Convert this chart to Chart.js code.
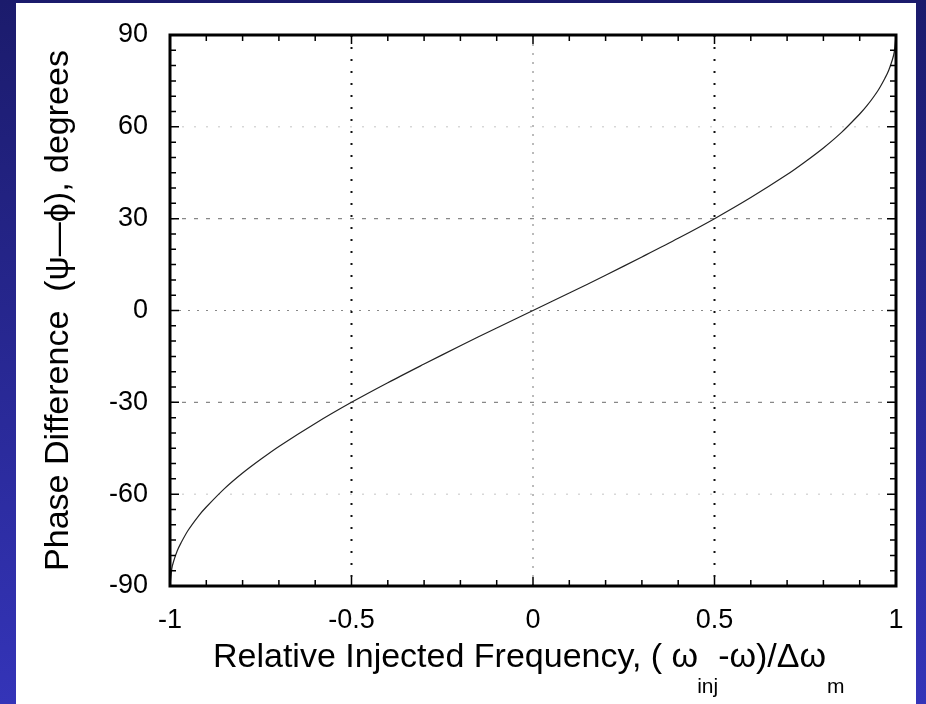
<!DOCTYPE html>
<html>
<head>
<meta charset="utf-8">
<script src="https://cdn.jsdelivr.net/npm/chart.js@4.4.1/dist/chart.umd.min.js"></script>
<style>
html, body { margin: 0; padding: 0; }
body { width: 926px; height: 704px; background: linear-gradient(#1b1b6c, #3434b8); position: relative; overflow: hidden; }
#panel { position: absolute; left: 16px; top: 3px; width: 900px; height: 701px; background: #fff; }
#wrap { position: absolute; left: 0; top: 0; width: 926px; height: 704px; }
</style>
</head>
<body>
<div id="panel"></div>
<div id="wrap"><canvas id="phase-chart"></canvas></div>
<script>
// relative injected frequency and phase difference
var freq  = [-1, -0.995, -0.99, -0.98, -0.97, -0.95, -0.92, -0.9, -0.85, -0.8, -0.75, -0.7, -0.6, -0.5, -0.4, -0.3, -0.2, -0.1, 0,
             0.1, 0.2, 0.3, 0.4, 0.5, 0.6, 0.7, 0.75, 0.8, 0.85, 0.9, 0.92, 0.95, 0.97, 0.98, 0.99, 0.995, 1];
var phase = [-90, -84.3, -81.9, -78.5, -76, -71.8, -66.9, -64.2, -58.2, -53.1, -48.6, -44.4, -36.9, -30, -23.6, -17.5, -11.5, -5.7, 0,
             5.7, 11.5, 17.5, 23.6, 30, 36.9, 44.4, 48.6, 53.1, 58.2, 64.2, 66.9, 71.8, 76, 78.5, 81.9, 84.3, 90];
var xTicks = [-1, -0.5, 0, 0.5, 1];
var yTicks = [-90, -60, -30, 0, 30, 60, 90];

var points = freq.map(function (f, i) { return { x: f, y: phase[i] }; });

function dotted(ctx, x1, y1, x2, y2, color, width, dash) {
    ctx.save();
    ctx.strokeStyle = color;
    ctx.lineWidth = width;
    ctx.setLineDash(dash);
    ctx.beginPath();
    ctx.moveTo(x1, y1);
    ctx.lineTo(x2, y2);
    ctx.stroke();
    ctx.restore();
}

var framePlugin = {
    id: 'frame',
    beforeDatasetsDraw: function (chart) {
        var ctx = chart.ctx, a = chart.chartArea;
        var xs = chart.scales.x, ys = chart.scales.y;
        [-0.5, 0.5].forEach(function (v) {
            var px = xs.getPixelForValue(v);
            dotted(ctx, px, a.top, px, a.bottom, '#111', 2, [2, 10]);
        });
        var p0 = xs.getPixelForValue(0);
        dotted(ctx, p0, a.top, p0, a.bottom, '#777', 1, [2, 7]);
        [30, -30].forEach(function (v) {
            var py = ys.getPixelForValue(v);
            dotted(ctx, a.left, py, a.right, py, '#888', 1.2, [4, 8]);
        });
        var z = ys.getPixelForValue(0);
        dotted(ctx, a.left, z, a.right, z, '#888', 1, [2, 7]);
        [60, -60].forEach(function (v) {
            var py = ys.getPixelForValue(v);
            dotted(ctx, a.left, py, a.right, py, '#c4c4c4', 1, [2, 10]);
        });
    },
    afterDatasetsDraw: function (chart) {
        var ctx = chart.ctx, a = chart.chartArea;
        var xs = chart.scales.x, ys = chart.scales.y;
        ctx.save();
        ctx.strokeStyle = '#000';
        ctx.lineWidth = 1.5;
        ctx.beginPath();
        for (var i = -9; i <= 9; i++) {
            var px = xs.getPixelForValue(i / 10);
            var len = (i % 5 === 0) ? 9 : 6;
            ctx.moveTo(px, a.bottom); ctx.lineTo(px, a.bottom - len);
            ctx.moveTo(px, a.top); ctx.lineTo(px, a.top + len);
        }
        for (var d = -85; d <= 85; d += 5) {
            var py = ys.getPixelForValue(d);
            var l2 = (d % 30 === 0) ? 9 : 6;
            ctx.moveTo(a.left, py); ctx.lineTo(a.left + l2, py);
            ctx.moveTo(a.right, py); ctx.lineTo(a.right - l2, py);
        }
        ctx.stroke();
        ctx.lineWidth = 3;
        ctx.strokeRect(a.left, a.top, a.right - a.left, a.bottom - a.top);
        ctx.restore();
    },
    afterDraw: function (chart) {
        // x axis title with subscripts
        var ctx = chart.ctx;
        var x = 213, base = 667;
        var big = '34px "Liberation Sans", Arial, sans-serif';
        var small = '21px "Liberation Sans", Arial, sans-serif';
        ctx.save();
        ctx.fillStyle = '#000';
        ctx.textBaseline = 'alphabetic';
        ctx.textAlign = 'left';
        ctx.font = big;
        var s1 = 'Relative Injected Frequency, ( \u03c9';
        ctx.fillText(s1, x, base);
        x += ctx.measureText(s1).width - 1;
        ctx.font = small;
        ctx.fillText('inj', x, base + 26);
        x += ctx.measureText('inj').width;
        ctx.font = big;
        var s2 = '-\u03c9)/\u0394\u03c9';
        ctx.fillText(s2, x, base);
        x += ctx.measureText(s2).width + 1;
        ctx.font = small;
        ctx.fillText('m', x, base + 26);
        ctx.restore();
    }
};

var ctx = document.getElementById('phase-chart').getContext('2d');
var phaseChart = new Chart(ctx, {
    type: 'scatter',
    data: {
        datasets: [{
            data: points,
            showLine: true,
            borderColor: '#222',
            borderWidth: 1.2,
            pointRadius: 0,
            tension: 0.3
        }]
    },
    options: {
        responsive: true,
        maintainAspectRatio: false,
        animation: false,
        layout: { padding: { left: 0, top: 35, right: 30, bottom: 0 } },
        plugins: { legend: { display: false }, tooltip: { enabled: false } },
        scales: {
            x: {
                type: 'linear',
                min: -1,
                max: 1,
                afterBuildTicks: function (scale) { scale.ticks = xTicks.map(function (v) { return { value: v }; }); },
                afterFit: function (scale) { scale.height = 118; },
                grid: { display: false },
                border: { display: false },
                ticks: {
                    color: '#000',
                    padding: 10,
                    maxRotation: 0,
                    font: { family: '"Liberation Sans", Arial, sans-serif', size: 27 },
                    callback: function (v) { return String(v); }
                }
            },
            y: {
                type: 'linear',
                min: -90,
                max: 90,
                afterBuildTicks: function (scale) { scale.ticks = yTicks.map(function (v) { return { value: v }; }); },
                afterFit: function (scale) { scale.width = 170; },
                grid: { display: false },
                border: { display: false },
                ticks: {
                    color: '#000',
                    padding: 14,
                    font: { family: '"Liberation Sans", Arial, sans-serif', size: 27 },
                    callback: function (v) { return String(v); }
                },
                title: {
                    display: true,
                    text: 'Phase Difference  (\u03c8\u2014\u03d5), degrees',
                    color: '#000',
                    padding: { top: 38, bottom: 0 },
                    font: { family: '"Liberation Sans", Arial, sans-serif', size: 34, weight: 'normal' }
                }
            }
        }
    },
    plugins: [framePlugin]
});
</script>
</body>
</html>
